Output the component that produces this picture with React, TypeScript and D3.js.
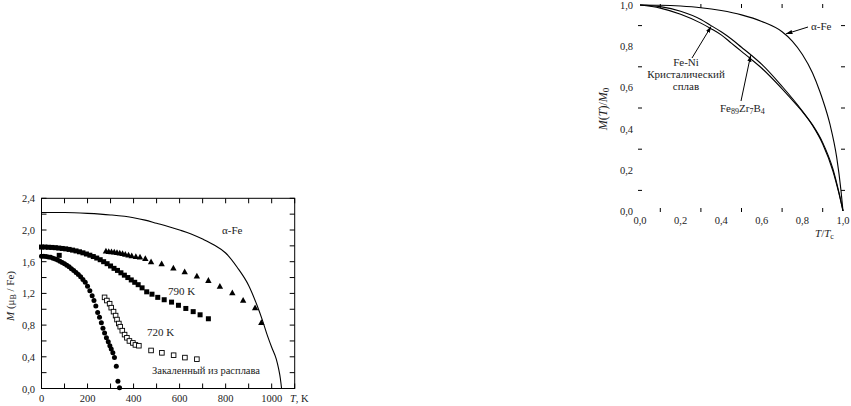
import React from "react";
import * as d3 from "d3";

// ---------- Left chart data (T in K, M in μB/Fe) ----------
const alphaFeT = [0, 100, 200, 300, 400, 450, 500, 550, 600, 650, 700, 750, 800, 850, 900, 935, 960, 980, 1000, 1020, 1030, 1038, 1043];
const alphaFeM = [2.22, 2.22, 2.21, 2.19, 2.155, 2.125, 2.085, 2.045, 2.0, 1.95, 1.885, 1.81, 1.71, 1.53, 1.3, 1.06, 0.86, 0.68, 0.52, 0.37, 0.25, 0.12, 0.0];

const triT = [280, 292, 304, 316, 328, 340, 352, 364, 378, 392, 410, 428, 451, 476, 522, 573, 622, 675, 725, 775, 829, 876, 928, 955];
const triM = [1.735, 1.73, 1.727, 1.722, 1.717, 1.71, 1.703, 1.695, 1.685, 1.675, 1.665, 1.66, 1.64, 1.6, 1.575, 1.52, 1.475, 1.42, 1.365, 1.29, 1.21, 1.115, 1.02, 0.835];

const sqT = [0, 15, 30, 45, 60, 75, 90, 105, 120, 135, 150, 165, 180, 195, 210, 225, 240, 255, 270, 285, 300, 315, 330, 345, 360, 375, 390, 405, 420, 437, 457, 480, 505, 533, 565, 595, 627, 659, 689, 725];
const sqM = [1.785, 1.785, 1.782, 1.78, 1.777, 1.772, 1.767, 1.762, 1.755, 1.746, 1.736, 1.725, 1.712, 1.697, 1.682, 1.665, 1.646, 1.625, 1.6, 1.575, 1.546, 1.516, 1.49, 1.46, 1.43, 1.4, 1.37, 1.34, 1.31, 1.27, 1.22, 1.19, 1.15, 1.12, 1.09, 1.05, 1.01, 0.97, 0.93, 0.88];
const sqOutlierT = [77];
const sqOutlierM = [1.68];

const openT = [274, 284, 296, 303, 313, 322, 328, 336, 342, 351, 361, 371, 382, 397, 408, 423, 476, 523, 574, 623, 675];
const openM = [1.15, 1.11, 1.07, 1.02, 0.97, 0.92, 0.87, 0.82, 0.78, 0.73, 0.68, 0.64, 0.6, 0.575, 0.55, 0.54, 0.48, 0.45, 0.42, 0.39, 0.37];
const openErr = [0, 0.03, 0.03, 0.03, 0.03, 0.03, 0.03, 0.03, 0.03, 0.03, 0.03, 0.03, 0.03, 0.03, 0.03, 0.03, 0, 0.03, 0.03, 0, 0];

const circT = [0, 10, 20, 30, 40, 50, 60, 70, 80, 90, 100, 110, 120, 130, 140, 150, 160, 170, 180, 190, 200, 210, 220, 228, 236, 244, 252, 260, 267, 274, 282, 290, 297, 303, 310, 317, 325, 332, 339];
const circM = [1.67, 1.668, 1.665, 1.66, 1.655, 1.645, 1.635, 1.62, 1.605, 1.59, 1.575, 1.555, 1.535, 1.51, 1.49, 1.465, 1.44, 1.41, 1.375, 1.34, 1.29, 1.235, 1.17, 1.11, 1.04, 0.96, 0.9, 0.83, 0.76, 0.7, 0.64, 0.59, 0.54, 0.5, 0.45, 0.39, 0.28, 0.09, 0.01];

const leftYTicks = [0, 0.4, 0.8, 1.2, 1.6, 2.0, 2.4];
const leftXTicks = [0, 200, 400, 600, 800, 1000];

// ---------- Right chart data (T/Tc, M(T)/M0) ----------
const rAlphaT = [0, 0.1, 0.2, 0.3, 0.4, 0.5, 0.6, 0.7, 0.75, 0.8, 0.85, 0.886, 0.9, 0.936, 0.969, 0.99, 1.0];
const rAlphaM = [1.0, 0.999, 0.995, 0.987, 0.973, 0.952, 0.92, 0.87, 0.825, 0.76, 0.67, 0.58, 0.54, 0.42, 0.26, 0.1, 0.0];

const rFeNiT = [0, 0.1, 0.2, 0.3, 0.35, 0.4, 0.45, 0.5, 0.55, 0.6, 0.7, 0.8, 0.85, 0.9, 0.95, 0.98, 1.0];
const rFeNiM = [1.0, 0.992, 0.97, 0.93, 0.9, 0.87, 0.835, 0.795, 0.755, 0.712, 0.605, 0.485, 0.415, 0.325, 0.195, 0.085, 0.0];

const rFeZrBT = [0, 0.1, 0.2, 0.3, 0.35, 0.4, 0.45, 0.5, 0.55, 0.6, 0.7, 0.78, 0.8, 0.85, 0.9, 0.95, 0.98, 1.0];
const rFeZrBM = [1.0, 0.985, 0.955, 0.912, 0.885, 0.855, 0.815, 0.775, 0.735, 0.693, 0.593, 0.505, 0.482, 0.418, 0.332, 0.205, 0.09, 0.0];

const rTickLabels = [0, 0.2, 0.4, 0.6, 0.8, 1.0];
const rMinorTicks = [0.1, 0.3, 0.5, 0.7, 0.9];

const fmt = (v: number, d: number) => v.toFixed(d).replace(".", ",");

export default function App() {
  const LX = d3.scaleLinear().domain([0, 1100]).range([41.5, 294.7]);
  const LY = d3.scaleLinear().domain([0, 2.4]).range([388.5, 198.3]);
  const RX = d3.scaleLinear().domain([0, 1]).range([640, 843]);
  const RY = d3.scaleLinear().domain([0, 1]).range([211, 5]);

  const lineL = d3
    .line<[number, number]>()
    .x((d) => LX(d[0]))
    .y((d) => LY(d[1]))
    .curve(d3.curveMonotoneX);
  const lineR = d3
    .line<[number, number]>()
    .x((d) => RX(d[0]))
    .y((d) => RY(d[1]))
    .curve(d3.curveMonotoneX);

  const zip = (a: number[], b: number[]) => a.map((v, i) => [v, b[i]] as [number, number]);

  const ts: React.CSSProperties = { fontFamily: "'Liberation Serif', 'Times New Roman', serif" };
  const txt = "#222";
  const fs = 10.5;

  const [lx0, lx1] = LX.range();
  const [ly0, ly1] = LY.range();
  const tl = 5;

  const leftMinorY = d3.range(0, 2.41, 0.2);
  const leftMinorX = d3.range(0, 1101, 100);

  const triPath = (cx: number, cy: number) => {
    const s = 3.2;
    return `M${cx},${cy - s}L${cx + s},${cy + s * 0.8}L${cx - s},${cy + s * 0.8}Z`;
  };

  return (
    <svg
      width={851}
      height={406}
      style={{ position: "absolute", left: 0, top: 0, background: "#fff" }}
    >
      {/* ================= LEFT CHART ================= */}
      <rect x={lx0} y={ly1} width={lx1 - lx0} height={ly0 - ly1} fill="none" stroke="#000" strokeWidth={1} />
      {leftMinorY.map((v, i) => (
        <g key={"ly" + i} stroke="#000" strokeWidth={1}>
          <line x1={lx0} x2={lx0 + tl} y1={LY(v)} y2={LY(v)} />
          <line x1={lx1} x2={lx1 - tl} y1={LY(v)} y2={LY(v)} />
        </g>
      ))}
      {leftMinorX.map((v, i) => (
        <g key={"lx" + i} stroke="#000" strokeWidth={1}>
          <line x1={LX(v)} x2={LX(v)} y1={ly0} y2={ly0 - tl} />
          <line x1={LX(v)} x2={LX(v)} y1={ly1} y2={ly1 + tl} />
        </g>
      ))}
      {leftYTicks.map((v) => (
        <text key={"lyt" + v} style={ts} x={35} y={LY(v) + 4} fontSize={fs} textAnchor="end" fill={txt}>
          {fmt(v, 1)}
        </text>
      ))}
      {leftXTicks.map((v) => (
        <text key={"lxt" + v} style={ts} x={LX(v)} y={402} fontSize={fs} textAnchor="middle" fill={txt}>
          {v}
        </text>
      ))}
      <text style={ts} x={290} y={402} fontSize={fs} fill={txt}>
        <tspan fontStyle="italic">T</tspan>, K
      </text>
      <text style={ts} transform="translate(14,296) rotate(-90)" fontSize={11} textAnchor="middle" fill={txt}>
        <tspan fontStyle="italic">M</tspan> (μ<tspan fontSize={8} dy={2}>B</tspan>
        <tspan dy={-2}> / Fe)</tspan>
      </text>

      {/* α-Fe line */}
      <path d={lineL(zip(alphaFeT, alphaFeM)) || ""} fill="none" stroke="#000" strokeWidth={1.1} />

      {/* triangles */}
      {triT.map((t, i) => (
        <path key={"tri" + i} d={triPath(LX(t), LY(triM[i]))} fill="#000" />
      ))}
      {/* filled squares */}
      {sqT.map((t, i) => (
        <rect key={"sq" + i} x={LX(t) - 2.5} y={LY(sqM[i]) - 2.5} width={5} height={5} fill="#000" />
      ))}
      {sqOutlierT.map((t, i) => (
        <rect key={"sqo" + i} x={LX(t) - 2.5} y={LY(sqOutlierM[i]) - 2.5} width={5} height={5} fill="#000" />
      ))}
      {/* open squares with error bars */}
      {openT.map((t, i) => (
        <g key={"op" + i} stroke="#000" strokeWidth={0.9}>
          {openErr[i] > 0 && (
            <line x1={LX(t)} x2={LX(t)} y1={LY(openM[i] - openErr[i])} y2={LY(openM[i] + openErr[i])} />
          )}
          <rect x={LX(t) - 2.3} y={LY(openM[i]) - 2.3} width={4.6} height={4.6} fill="#fff" />
        </g>
      ))}
      {/* filled circles */}
      {circT.map((t, i) => (
        <circle key={"c" + i} cx={LX(t)} cy={LY(circM[i])} r={2.5} fill="#000" />
      ))}

      <text style={ts} x={222} y={234} fontSize={11} fill={txt}>α-Fe</text>
      <text style={ts} x={168} y={295} fontSize={11} fill={txt}>790 K</text>
      <text style={ts} x={147} y={336} fontSize={11} fill={txt}>720 K</text>
      <text style={ts} x={152} y={374} fontSize={fs} fill={txt}>Закаленный из расплава</text>

      {/* ================= RIGHT CHART ================= */}
      {rMinorTicks.map((v) => (
        <g key={"rt" + v} stroke="#000" strokeWidth={1}>
          <line x1={RX(v)} x2={RX(v)} y1={RY(0) + 1} y2={RY(0) - 3} />
          <line x1={RX(v)} x2={RX(v)} y1={RY(1) - 1} y2={RY(1) + 3} />
          <line x1={RX(0) - 2} x2={RX(0) + 2} y1={RY(v)} y2={RY(v)} />
          <line x1={RX(1) + 2} x2={RX(1) - 2} y1={RY(v)} y2={RY(v)} />
        </g>
      ))}
      {rTickLabels.map((v) => (
        <text key={"ryl" + v} style={ts} x={633} y={RY(v) + 4} fontSize={fs} textAnchor="end" fill={txt}>
          {fmt(v, 1)}
        </text>
      ))}
      {rTickLabels.map((v) => (
        <text key={"rxl" + v} style={ts} x={RX(v)} y={224} fontSize={fs} textAnchor="middle" fill={txt}>
          {fmt(v, 1)}
        </text>
      ))}
      <text style={ts} x={815} y={237} fontSize={11} fill={txt}>
        <tspan fontStyle="italic">T</tspan>/<tspan fontStyle="italic">T</tspan>
        <tspan fontSize={8} dy={2}>c</tspan>
      </text>
      <text style={ts} transform="translate(607,109) rotate(-90)" fontSize={12} textAnchor="middle" fill={txt}>
        <tspan fontStyle="italic">M</tspan>(<tspan fontStyle="italic">T</tspan>)/<tspan fontStyle="italic">M</tspan>
        <tspan fontSize={9} dy={2}>0</tspan>
      </text>

      <path d={lineR(zip(rAlphaT, rAlphaM)) || ""} fill="none" stroke="#000" strokeWidth={1.1} />
      <path d={lineR(zip(rFeNiT, rFeNiM)) || ""} fill="none" stroke="#000" strokeWidth={1.1} />
      <path d={lineR(zip(rFeZrBT, rFeZrBM)) || ""} fill="none" stroke="#000" strokeWidth={1.1} />

      <defs>
        <marker id="arr" viewBox="0 0 10 10" refX={9} refY={5} markerWidth={7} markerHeight={7} orient="auto">
          <path d="M0,2L10,5L0,8Z" fill="#000" />
        </marker>
      </defs>
      {/* arrows */}
      <line x1={692} y1={58} x2={RX(0.35)} y2={RY(0.9) + 1} stroke="#000" strokeWidth={1} markerEnd="url(#arr)" />
      <line x1={741} y1={101} x2={RX(0.545)} y2={RY(0.76) + 1} stroke="#000" strokeWidth={1} markerEnd="url(#arr)" />
      <line x1={808} y1={27} x2={RX(0.72)} y2={RY(0.855) - 1} stroke="#000" strokeWidth={1} markerEnd="url(#arr)" />

      <text style={ts} x={811} y={30} fontSize={11} fill={txt}>α-Fe</text>
      <text style={ts} x={686} y={66} fontSize={11} textAnchor="middle" fill={txt}>Fe-Ni</text>
      <text style={ts} x={686} y={78} fontSize={11} textAnchor="middle" fill={txt}>Кристалический</text>
      <text style={ts} x={686} y={90} fontSize={11} textAnchor="middle" fill={txt}>сплав</text>
      <text style={ts} x={720} y={112} fontSize={11} fill={txt}>
        Fe<tspan fontSize={8} dy={2}>89</tspan>
        <tspan dy={-2}>Zr</tspan>
        <tspan fontSize={8} dy={2}>7</tspan>
        <tspan dy={-2}>B</tspan>
        <tspan fontSize={8} dy={2}>4</tspan>
      </text>
    </svg>
  );
}
